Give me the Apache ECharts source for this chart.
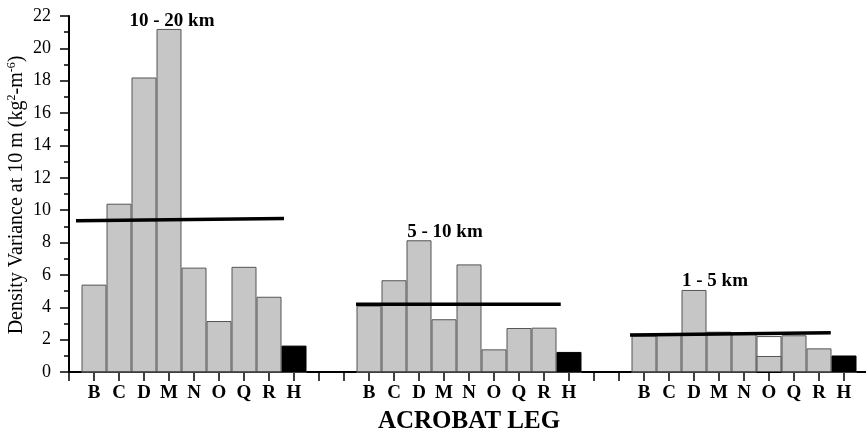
<!DOCTYPE html>
<html>
<head>
<meta charset="utf-8">
<script src="https://cdn.jsdelivr.net/npm/echarts@6/dist/echarts.min.js"></script>
<style>
html,body{margin:0;padding:0;background:#fff;}
#chart{width:866px;height:435px;}
</style>
</head>
<body>
<div id="chart"></div>
<script>
// ---- data ----
const legs = ['B', 'C', 'D', 'M', 'N', 'O', 'Q', 'R', 'H'];
const groupNames = ['10 - 20 km', '5 - 10 km', '1 - 5 km'];
const groupStart = [1, 12, 23];           // category slot of first leg in each group
const values10to20 = [5.4, 10.4, 18.2, 21.2, 6.45, 3.15, 6.5, 4.65, 1.63];
const values5to10 = [4.1, 5.67, 8.14, 3.26, 6.65, 1.40, 2.72, 2.74, 1.24];
const values1to5 = [2.25, 2.3, 5.07, 2.49, 2.35, 0.99, 2.27, 1.46, 1.02];
const outline1to5 = [null, null, null, null, null, 2.22, null, null, null];
const mean10to20 = [[0.28, 9.35], [8.6, 9.48]];
const mean5to10 = [[11.48, 4.18], [19.67, 4.18]];
const mean1to5 = [[22.44, 2.29], [30.47, 2.43]];
const yTicks = [0, 2, 4, 6, 8, 10, 12, 14, 16, 18, 20, 22];
const yTitle = 'Density Variance at 10 m (kg{s|2}-m{s|-6})';

// ---- build ----
const groups = [values10to20, values5to10, values1to5];
const labelAt = {};
const barData = [];
const outlineData = [];
groups.forEach((vals, g) => {
  vals.forEach((v, j) => {
    const x = groupStart[g] + j;
    labelAt[x] = legs[j];
    const isRef = legs[j] === 'H';
    barData.push({
      value: [x, v],
      itemStyle: isRef ? { color: '#000', borderColor: '#000' } : undefined
    });
    const o = g === 2 ? outline1to5[j] : null;
    outlineData.push([x, o == null ? 0 : o]);
  });
});

const serif = '"Liberation Serif", "Times New Roman", serif';
const chart = echarts.init(document.getElementById('chart'), null, { renderer: 'canvas' });
const lineStyle = { color: '#000', width: 3.5 };
const groupLabel = (text, x, y) => ({
  type: 'text', x: x, y: y, z: 10,
  style: { text: text, font: 'bold 19px ' + serif, fill: '#000', align: 'center', verticalAlign: 'middle' }
});
chart.setOption({
  animation: false,
  backgroundColor: '#fff',
  grid: { left: 69, right: -3, top: 16, bottom: 63, containLabel: false, outerBoundsMode: 'none' },
  xAxis: {
    type: 'value', min: 0, max: 32, interval: 1,
    name: 'ACROBAT LEG', nameLocation: 'middle', nameGap: 37,
    nameTextStyle: { fontFamily: serif, fontWeight: 'bold', fontSize: 25, color: '#000' },
    axisLine: { show: true, lineStyle: { color: '#000', width: 2 } },
    axisTick: { show: true, length: 9, lineStyle: { color: '#000', width: 1.5 } },
    axisLabel: {
      margin: 12, color: '#000', fontFamily: serif, fontWeight: 'bold', fontSize: 19,
      formatter: v => labelAt[v] || ''
    },
    splitLine: { show: false }
  },
  yAxis: {
    type: 'value', min: yTicks[0], max: yTicks[yTicks.length - 1], interval: 2,
    axisLine: { show: true, lineStyle: { color: '#000', width: 2 } },
    axisTick: { show: true, length: 9, lineStyle: { color: '#000', width: 1.5 } },
    minorTick: { show: true, splitNumber: 2, length: 5, lineStyle: { color: '#000', width: 1.5 } },
    axisLabel: { margin: 18, color: '#000', fontFamily: serif, fontSize: 18 },
    splitLine: { show: false }
  },
  graphic: [
    groupLabel(groupNames[0], 172, 21),
    groupLabel(groupNames[1], 445, 232),
    groupLabel(groupNames[2], 715, 281),
    {
      type: 'text', x: 17, y: 195, rotation: Math.PI / 2, z: 10,
      style: {
        text: yTitle, fontFamily: serif, fontSize: 20, fill: '#000',
        align: 'center', verticalAlign: 'middle', lineHeight: 22,
        rich: { s: { fontFamily: serif, fontSize: 12, fill: '#000', verticalAlign: 'top', lineHeight: 22 } }
      }
    }
  ],
  series: [
    {
      type: 'bar', data: outlineData, barGap: '-100%', barCategoryGap: '0%',
      itemStyle: { color: '#fff', borderColor: '#555', borderWidth: 1 }
    },
    {
      type: 'bar', data: barData, barGap: '-100%', barCategoryGap: '0%',
      itemStyle: { color: '#c6c6c6', borderColor: '#555', borderWidth: 1 }
    },
    { type: 'line', data: mean10to20, symbol: 'none', lineStyle: lineStyle, z: 5 },
    { type: 'line', data: mean5to10, symbol: 'none', lineStyle: lineStyle, z: 5 },
    { type: 'line', data: mean1to5, symbol: 'none', lineStyle: lineStyle, z: 5 }
  ]
});
</script>
</body>
</html>
